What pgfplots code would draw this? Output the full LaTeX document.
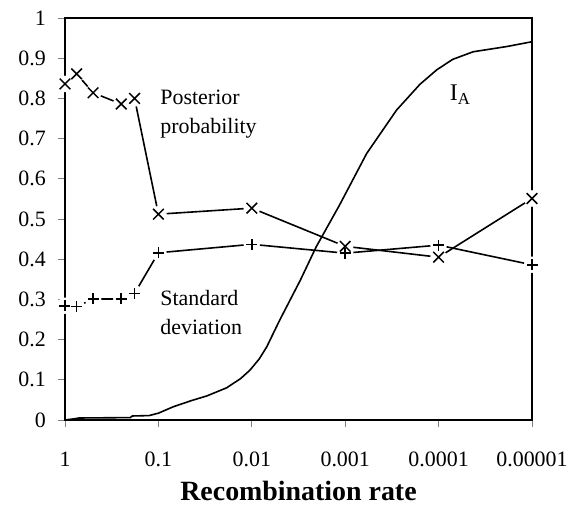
\documentclass[border=0pt]{standalone}
\usepackage{fontspec}
\setmainfont{Liberation Serif}
\usepackage{pgfplots}
\usepackage{pgfplotstable}
\pgfplotsset{compat=1.18}

% posterior probability and its standard deviation, per recombination rate
\pgfplotstableread{
rate     post   sd
1        0.836  0.284
0.75     0.861  0.282
0.5      0.814  0.301
0.25     0.786  0.301
0.18     0.800  0.315
0.1      0.512  0.416
0.01     0.527  0.437
0.001    0.432  0.415
0.0001   0.405  0.435
0.00001  0.551  0.386
}\stats

% index of association I_A
\pgfplotstableread{
rate        ia
1           0.000
0.7943      0.003
0.7079      0.005
0.1995      0.006
0.1905      0.010
0.1259      0.011
0.1         0.017
0.06918     0.033
0.04467     0.048
0.03020     0.060
0.01862     0.080
0.01318     0.103
0.01047     0.124
0.008318    0.152
0.006918    0.182
0.005012    0.249
0.003020    0.348
0.002042    0.431
0.001148    0.535
0.0005888   0.663
0.0002818   0.771
0.0001585   0.835
0.0001047   0.871
0.00007079  0.897
0.00004266  0.916
0.00001862  0.929
0.00001     0.941
}\ia

\begin{document}
\begin{tikzpicture}
\begin{axis}[
    scale only axis,
    width=467bp, height=402bp,
    xmode=log, x dir=reverse,
    xmin=0.00001, xmax=1,
    ymin=0, ymax=1,
    xtick={1,0.1,0.01,0.001,0.0001,0.00001},
    xticklabels={1,0.1,0.01,0.001,0.0001,0.00001},
    xminorticks=false,
    ytick={0,0.1,0.2,0.3,0.4,0.5,0.6,0.7,0.8,0.9,1},
    yticklabels={0,0.1,0.2,0.3,0.4,0.5,0.6,0.7,0.8,0.9,1},
    tick pos=left, tick align=outside,
    major tick length=7bp,
    every tick/.style={gray, line width=0.8bp},
    axis line style={black, line width=1.5bp},
    clip=false,
    tick label style={font=\fontsize{22}{26}\selectfont},
    xticklabel style={anchor=north, inner sep=0pt, yshift=-25bp},
    yticklabel style={anchor=east, inner sep=0pt, xshift=-12bp},
    xlabel={Recombination rate},
    xlabel style={font=\fontsize{28}{32}\selectfont\bfseries, inner sep=0pt, yshift=-14bp},
]
\addplot[black, line width=1.6bp] table[x=rate, y=ia] {\ia};
\addplot[black, line width=1.6bp] table[x=rate, y=post] {\stats};
\addplot[black, line width=1.6bp] table[x=rate, y=sd] {\stats};
% white gaps round the markers
\addplot[white, only marks, mark=*, mark size=8bp, mark options={white}] table[x=rate, y=post] {\stats};
\addplot[white, only marks, mark=*, mark size=8bp, mark options={white}] table[x=rate, y=sd] {\stats};
\addplot[black, only marks, mark=x, mark size=7.5bp, mark options={black, line width=1.5bp}] table[x=rate, y=post] {\stats};
\addplot[black, only marks, mark=+, mark size=5.5bp, mark options={black, line width=1.5bp}] table[x=rate, y=sd] {\stats};

\node[anchor=north west, align=left, inner sep=0pt, font=\fontsize{22}{29}\selectfont]
    at (axis cs:0.0955,0.821) {Posterior\\probability};
\node[anchor=north west, align=left, inner sep=0pt, font=\fontsize{22}{29}\selectfont]
    at (axis cs:0.0955,0.323) {Standard\\deviation};
\node[anchor=north west, inner sep=0pt, font=\fontsize{24}{28}\selectfont]
    at (axis cs:0.000076,0.833) {I\textsubscript{A}};

\coordinate (bl) at (rel axis cs:0,0);
\coordinate (tr) at (rel axis cs:1,1);
\end{axis}
\pgfresetboundingbox
\path ([shift={(-65bp,-86bp)}]bl) rectangle ([shift={(41bp,18bp)}]tr);
\end{tikzpicture}
\end{document}
